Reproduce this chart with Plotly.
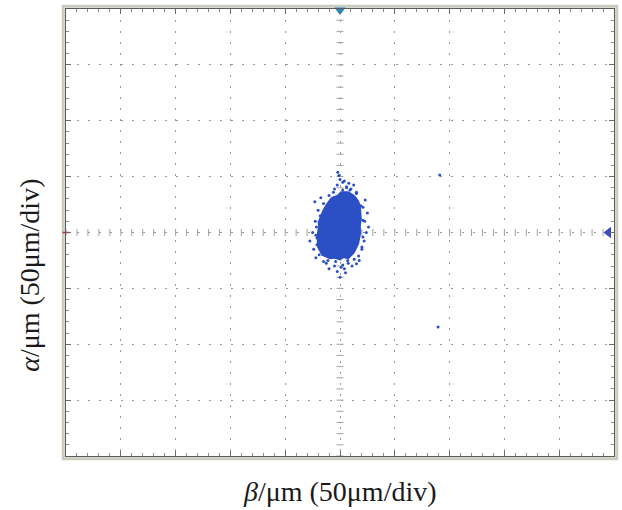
import numpy as np
import plotly.graph_objects as go

# Screen layout: 10 horizontal x 8 vertical divisions, 50 µm per division
x_divs = 10
y_divs = 8

# Dense core of the beam-position cloud (outline, in divisions)
core_x = [-0.15, -0.04, 0.02, 0.15, 0.22, 0.27, 0.33, 0.36, 0.38, 0.36, 0.37,
          0.33, 0.25, 0.15, 0.06, 0.00, -0.10, -0.18, -0.32, -0.36,
          -0.40, -0.41, -0.38, -0.39, -0.30, -0.24]
core_y = [0.62, 0.66, 0.72, 0.72, 0.68, 0.64, 0.56, 0.48, 0.25, 0.10, 0.00,
          -0.20, -0.36, -0.46, -0.44, -0.48, -0.45, -0.46, -0.40, -0.34,
          -0.26, -0.05, 0.10, 0.18, 0.40, 0.50]

# Sparse samples scattered around the core (in divisions)
spot_x = [-0.05, 0.05, 0.12, 0.20, -0.10, 0.00, 0.25, 0.30, 0.16, -0.02,
          -0.45, -0.50, -0.42, -0.48, -0.40, -0.55, -0.44, -0.46, -0.35,
          -0.25, -0.10, 0.05, 0.15, -0.05, 0.10, 0.00, -0.20, 0.08, -0.30, 0.22,
          0.45, 0.48, 0.44, 0.50, 0.42, 0.40, 0.35, 0.52, 0.46,
          -0.43, -0.44, -0.42, -0.36, -0.30, -0.20, 0.30, 0.38, 0.42, 0.42,
          0.40, 0.34, 0.26, 0.14, -0.08, -0.22, -0.38, 0.05, 0.18, -0.12,
          0.02, 0.08, -0.04, 0.30, -0.26, 0.12,
          1.82, 1.79]
spot_y = [0.85, 0.90, 0.82, 0.78, 0.78, 0.95, 0.85, 0.72, 0.88, 1.02,
          0.20, 0.00, -0.10, -0.30, 0.40, -0.15, -0.45, 0.55, 0.62,
          -0.55, -0.60, -0.58, -0.55, -0.70, -0.72, -0.80, -0.65, -0.65, -0.52, -0.60,
          0.20, 0.00, -0.15, 0.35, 0.45, -0.30, -0.50, 0.10, 0.58,
          0.10, -0.05, -0.22, 0.30, 0.52, 0.66, 0.70, 0.48, 0.22, -0.08,
          -0.26, -0.42, -0.48, -0.50, -0.52, -0.50, -0.40, 0.76, 0.76, 0.72,
          -0.62, 0.92, 1.08, -0.56, 0.40, 0.80,
          1.03, -1.69]

cloud_color = "#2b4fc4"
grid_color = "#9a9a9a"
tick_color = "#a0a0a0"

fig = go.Figure()

# Minor tick marks along the centre cross
ticks_h = np.arange(-x_divs / 2, x_divs / 2 + 0.01, 0.2)
ticks_v = np.arange(-y_divs / 2, y_divs / 2 + 0.01, 0.2)
fig.add_trace(go.Scatter(
    x=ticks_h, y=np.zeros_like(ticks_h), mode="markers", hoverinfo="skip",
    marker=dict(symbol="line-ns-open", size=5, color=tick_color,
                line=dict(color=tick_color, width=1)),
    showlegend=False))
fig.add_trace(go.Scatter(
    x=np.zeros_like(ticks_v), y=ticks_v, mode="markers", hoverinfo="skip",
    marker=dict(symbol="line-ew-open", size=5, color=tick_color,
                line=dict(color=tick_color, width=1)),
    showlegend=False))

# Cloud core
fig.add_trace(go.Scatter(
    x=core_x + core_x[:1], y=core_y + core_y[:1], mode="lines", fill="toself",
    fillcolor=cloud_color, line=dict(color=cloud_color, width=2),
    showlegend=False))

# Scattered samples
fig.add_trace(go.Scatter(
    x=spot_x, y=spot_y, mode="markers",
    marker=dict(color=cloud_color, size=3),
    showlegend=False))

# Trigger / position indicators on the frame
fig.add_trace(go.Scatter(
    x=[0], y=[y_divs / 2 - 0.02], mode="markers", cliponaxis=False,
    marker=dict(symbol="triangle-down", size=10, color="#2a86c4"),
    showlegend=False))
fig.add_trace(go.Scatter(
    x=[x_divs / 2 - 0.1], y=[0], mode="markers", cliponaxis=False,
    marker=dict(symbol="triangle-left", size=10, color="#3b47c0"),
    showlegend=False))
fig.add_trace(go.Scatter(
    x=[-x_divs / 2], y=[0], mode="markers", cliponaxis=False,
    marker=dict(symbol="line-ew-open", size=5, color="#d03030",
                line=dict(color="#d03030", width=1.5)),
    showlegend=False))

axis_common = dict(
    showgrid=True, gridcolor=grid_color, gridwidth=1, griddash="2px,9px",
    zeroline=False, showticklabels=False,
    showline=True, linecolor="#5a5a5a", linewidth=1, mirror="ticks",
    ticks="inside", ticklen=5, tickcolor="#6a6a6a", dtick=1,
    minor=dict(dtick=0.2, ticks="inside", ticklen=3, tickcolor="#8c8c8c",
               showgrid=False),
)

fig.update_layout(
    width=622, height=510,
    margin=dict(l=66, r=8, t=9, b=54),
    paper_bgcolor="white", plot_bgcolor="white",
    xaxis=dict(range=[-x_divs / 2, x_divs / 2], tick0=-x_divs / 2, **axis_common),
    yaxis=dict(range=[-y_divs / 2, y_divs / 2], tick0=-y_divs / 2, **axis_common),
    font=dict(family="Liberation Serif", size=28, color="#1a1a1a"),
    annotations=[
        dict(text="<i>β</i>/μm (50μm/div)", xref="paper", yref="paper",
             x=0.5, y=-0.08, xanchor="center", yanchor="middle", showarrow=False,
             font=dict(family="Liberation Serif", size=28)),
        dict(text="<i>α</i>/μm (50μm/div)", xref="paper", yref="paper",
             x=-0.066, y=0.405, xanchor="center", yanchor="middle", textangle=-90,
             showarrow=False, font=dict(family="Liberation Serif", size=28)),
    ],
)

# Light bezel around the screen
fig.add_shape(type="rect", xref="paper", yref="paper", x0=-0.005, x1=1.005,
              y0=-0.006, y1=1.006, line=dict(color="#c9cdbf", width=3),
              fillcolor="rgba(0,0,0,0)", layer="below")

fig.write_html("out.html")
